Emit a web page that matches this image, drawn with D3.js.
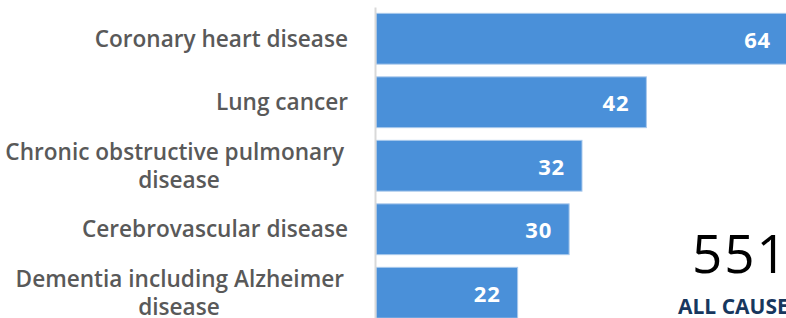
<!DOCTYPE html>
<html>
<head>
<meta charset="utf-8">
<script src="https://cdn.jsdelivr.net/npm/d3@7"></script>
<style>
  html, body { margin: 0; padding: 0; background: #ffffff; overflow: hidden; }
  svg { display: block; }
</style>
</head>
<body>
<svg id="chart" width="786" height="318"></svg>
<script>
const categories = [
  "Coronary heart disease",
  "Lung cancer",
  "Chronic obstructive pulmonary disease",
  "Cerebrovascular disease",
  "Dementia including Alzheimer disease"
];
const values = [64, 42, 32, 30, 22];
const totalValue = "551";
const totalLabel = "ALL CAUSES";

const W = 786, H = 318;
const svg = d3.select("#chart");
const FONT = "'Open Sans', Lato, sans-serif";

const x = d3.scaleLinear().domain([0, 64]).range([376, 788]);
const y = d3.scaleBand().domain(categories).range([7, 324.5])
  .paddingInner(0.2).paddingOuter(0.1);

const data = categories.map((c, i) => ({ cat: c, val: values[i] }));

// bars
svg.append("g").selectAll("rect").data(data).join("rect")
  .attr("x", x(0))
  .attr("y", d => y(d.cat))
  .attr("width", d => x(d.val) - x(0))
  .attr("height", y.bandwidth())
  .attr("fill", "#4a90d9")
  .attr("stroke", "#a9c9ec")
  .attr("stroke-width", 1);

// axis line
const axis = d3.axisLeft(y).tickSize(0).tickSizeOuter(0).tickFormat("");
const ag = svg.append("g").attr("transform", "translate(375,0)").call(axis);
ag.select(".domain").attr("stroke", "#d9d9d9").attr("stroke-width", 2);

// value labels
svg.append("g").selectAll("text").data(data).join("text")
  .attr("x", d => x(d.val) - 17)
  .attr("y", d => y(d.cat) + y.bandwidth() / 2 + 9)
  .attr("text-anchor", "end")
  .attr("font-family", FONT)
  .attr("font-weight", 700)
  .attr("font-size", 22)
  .attr("letter-spacing", 0.8)
  .attr("fill", "#ffffff")
  .text(d => d.val);

// category labels with wrapping
const LABEL_SIZE = 22.6;
const canvas = document.createElement("canvas");
const ctx = canvas.getContext("2d");
ctx.font = "600 " + LABEL_SIZE + "px 'Open Sans'";
function wrap(text, maxW) {
  const words = text.split(" ");
  const lines = [];
  let cur = "";
  words.forEach(w => {
    const t = cur ? cur + " " + w : w;
    if (ctx.measureText(t).width > maxW && cur) { lines.push(cur); cur = w; }
    else cur = t;
  });
  if (cur) lines.push(cur);
  return lines;
}
const lg = svg.append("g");
data.forEach(d => {
  const lines = wrap(d.cat, 350);
  const cy = y(d.cat) + y.bandwidth() / 2;
  const n = lines.length;
  lines.forEach((ln, i) => {
    const by = cy + 8 + (i - (n - 1) / 2) * 28.3;
    const multi = n > 1;
    lg.append("text")
      .attr("x", multi ? (i === 0 ? 344 : 179) : 348)
      .attr("y", by)
      .attr("text-anchor", multi && i > 0 ? "middle" : "end")
      .attr("font-family", FONT)
      .attr("font-weight", 600)
      .attr("font-size", LABEL_SIZE)
      .attr("fill", "#595959")
      .text(ln);
  });
});

// total
svg.append("text")
  .attr("x", 692).attr("y", 273)
  .attr("text-anchor", "start")
  .attr("font-family", FONT)
  .attr("font-size", 53)
  .attr("letter-spacing", 2)
  .attr("fill", "#000000")
  .text(totalValue);
svg.append("text")
  .attr("x", 678).attr("y", 314)
  .attr("text-anchor", "start")
  .attr("font-family", FONT)
  .attr("font-weight", "bold")
  .attr("font-size", 21)
  .attr("fill", "#17375e")
  .text(totalLabel);
</script>
</body>
</html>
